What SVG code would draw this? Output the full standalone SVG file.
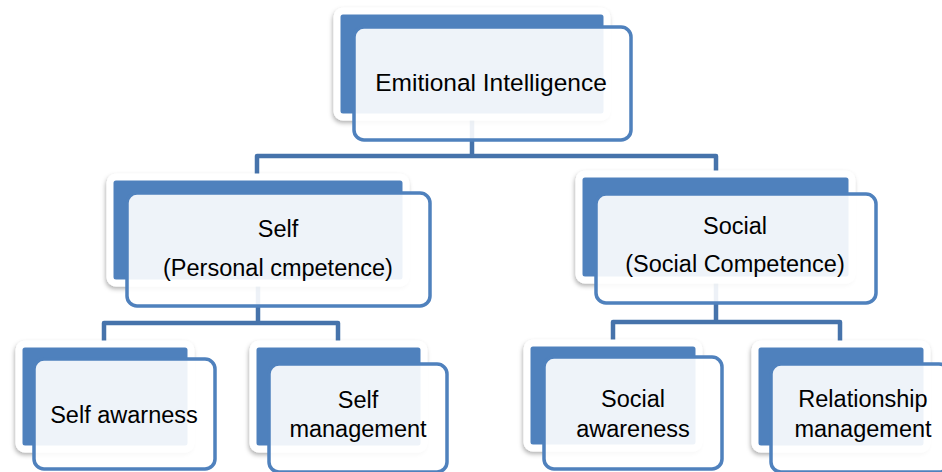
<svg xmlns="http://www.w3.org/2000/svg" width="942" height="472" viewBox="0 0 942 472">
  <defs>
    <filter id="soft" x="-10%" y="-10%" width="125%" height="130%">
      <feDropShadow dx="-1" dy="2.5" stdDeviation="2" flood-color="#000" flood-opacity="0.3"/>
    </filter>
  </defs>
  <style>
    .back { fill: #4F81BD; stroke: #FFFFFF; stroke-width: 7; filter: url(#soft); }
    .front { fill: #FFFFFF; fill-opacity: 0.9; stroke: #4F81BD; stroke-width: 3.5; }
    .link { fill: none; stroke: #4673AB; stroke-width: 4.5; stroke-linejoin: round; stroke-linecap: butt; }
    .label { font-family: "Liberation Sans", Arial, sans-serif; font-size: 23.5px; fill: #000000; text-anchor: middle; }
    .big { font-size: 24.5px; }
  </style>
  <rect width="942" height="472" fill="#FFFFFF"/>

  <!-- connectors (drawn beneath the boxes) -->
  <g id="connectors">
    <path class="link" d="M472,117 V156 M257,175 V156 H716 V174"/>
    <path class="link" d="M258,283 V323 M104,344 V323 H338 V344"/>
    <path class="link" d="M716,280 V322 M613,344 V322 H840 V344"/>
  </g>

  <g id="node-emotional-intelligence">
    <rect class="back" x="337" y="11" width="270" height="106" rx="6"/>
    <rect class="front" x="354" y="27" width="277" height="113" rx="10"/>
    <text class="label big" x="491" y="91">Emitional Intelligence</text>
  </g>

  <g id="node-self">
    <rect class="back" x="110" y="177" width="296" height="106" rx="6"/>
    <rect class="front" x="127" y="193" width="303" height="113" rx="10"/>
    <text class="label" x="278" y="237">Self</text>
    <text class="label" x="278" y="276">(Personal cmpetence)</text>
  </g>

  <g id="node-social">
    <rect class="back" x="579" y="174" width="273" height="106" rx="6"/>
    <rect class="front" x="596" y="194" width="280" height="109" rx="10"/>
    <text class="label" x="735" y="234">Social</text>
    <text class="label" x="735" y="272">(Social Competence)</text>
  </g>

  <g id="node-self-awareness">
    <rect class="back" x="19" y="344" width="172" height="105" rx="6"/>
    <rect class="front" x="34" y="359" width="181" height="110" rx="10"/>
    <text class="label" x="124" y="423">Self awarness</text>
  </g>

  <g id="node-self-management">
    <rect class="back" x="253" y="344" width="171" height="105" rx="6"/>
    <rect class="front" x="269" y="364" width="178" height="108" rx="10"/>
    <text class="label" x="358" y="408">Self</text>
    <text class="label" x="358" y="437">management</text>
  </g>

  <g id="node-social-awareness">
    <rect class="back" x="527" y="343" width="172" height="105" rx="6"/>
    <rect class="front" x="544" y="357" width="178" height="112" rx="10"/>
    <text class="label" x="633" y="407">Social</text>
    <text class="label" x="633" y="437">awareness</text>
  </g>

  <g id="node-relationship-management">
    <rect class="back" x="755" y="344" width="172" height="105" rx="6"/>
    <rect class="front" x="771" y="364" width="178" height="108" rx="10"/>
    <text class="label" x="863" y="407">Relationship</text>
    <text class="label" x="863" y="437">management</text>
  </g>
</svg>
